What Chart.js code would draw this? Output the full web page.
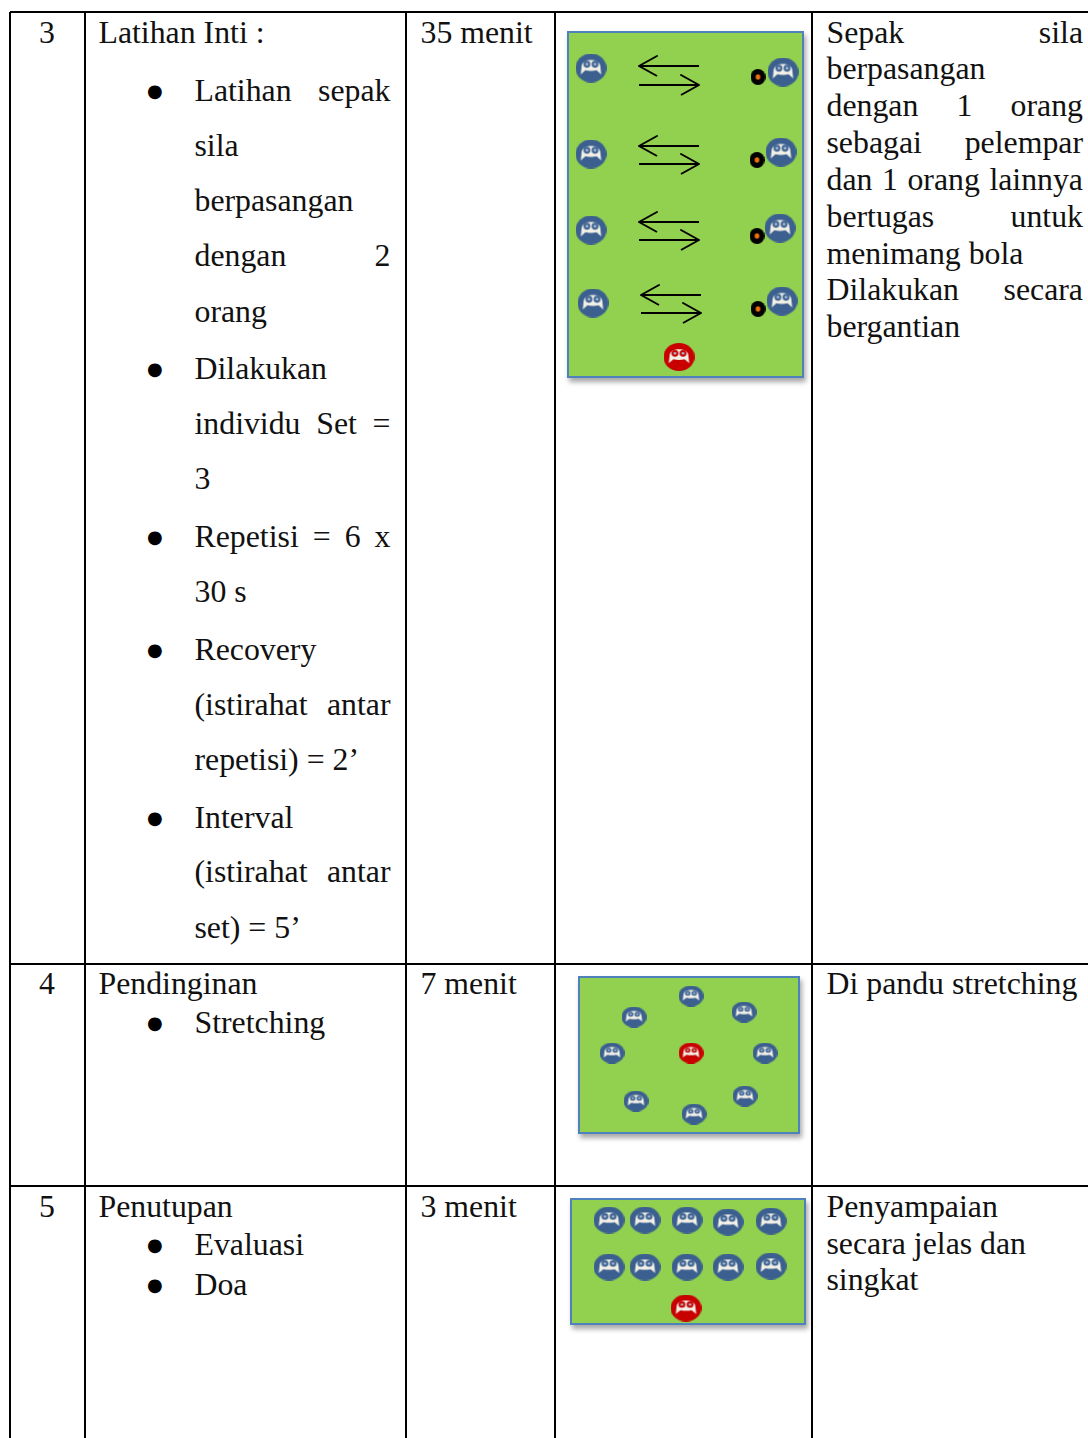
<!DOCTYPE html>
<html>
<head>
<meta charset="utf-8">
<title>Latihan</title>
<script src="https://cdn.jsdelivr.net/npm/chart.js@4"></script>
<style>
  html, body { margin: 0; background: #fff; }
  #page { position: relative; width: 1088px; height: 1438px; overflow: hidden;
          font-family: "Liberation Serif", serif; font-size: 31.8px; color: #111; }
  .rule { position: absolute; background: #000; }
  .line { position: absolute; height: 40px; line-height: 40px; white-space: nowrap; }
  .just { text-align: justify; text-align-last: justify; white-space: normal; }
  .dot { font-family: "DejaVu Sans"; font-size: 18px; color: #000; }
  .field { position: absolute; background: #92d050; box-shadow: 2px 4px 5px rgba(0,0,0,.35);
           outline: 2px solid #4f81bd; outline-offset: -2px; }
  .field canvas { position: absolute; left: 0; top: 0; }
</style>
</head>
<body>
<div id="page"></div>
<script>
// table text
const numbers = ['3', '4', '5'];
const numberY = [33, 984, 1207];
const durations = ['35 menit', '7 menit', '3 menit'];

const activityHeads = ['Latihan Inti :', 'Pendinginan', 'Penutupan'];
const activityLines = ['Latihan sepak', 'sila', 'berpasangan', 'dengan 2', 'orang', 'Dilakukan', 'individu Set =', '3',
  'Repetisi = 6 x', '30 s', 'Recovery', '(istirahat antar', 'repetisi) = 2’', 'Interval', '(istirahat antar', 'set) = 5’',
  'Stretching', 'Evaluasi', 'Doa'];
const activityY = [91, 146, 201, 256, 312, 369, 424, 479, 537, 592, 650, 705, 760, 818, 872, 928, 1023, 1245, 1285];
const activityJustified = [0, 3, 6, 8, 11, 14];
const bulletY = [91, 369, 537, 650, 818, 1023, 1245, 1285];

const noteLines = ['Sepak sila', 'berpasangan', 'dengan 1 orang', 'sebagai pelempar', 'dan 1 orang lainnya', 'bertugas untuk',
  'menimang bola', 'Dilakukan secara', 'bergantian', 'Di pandu stretching', 'Penyampaian', 'secara jelas dan', 'singkat'];
const noteY = [33, 69, 106, 143, 180, 217, 254, 290, 327, 984, 1207, 1244, 1280];
const noteJustified = [0, 2, 3, 4, 5, 7];

// field 1: pairs throwing and heading, values in px from the field corner
const pairLeftX = [24, 24, 24, 26];
const pairLeftY = [37, 123, 199, 272];
const pairRightX = [216, 214, 213, 215];
const pairRightY = [41, 121, 197, 270];
const ballX = [191, 190, 190, 191];
const ballY = [46, 129, 205, 278];
const coach1X = [112];
const coach1Y = [326];
const arrowBackY = [35, 115, 191, 264];
const arrowForwardY = [54, 133, 209, 282];
const arrowLeftX = [72, 72, 72, 74];
const arrowRightX = [132, 132, 132, 134];

// field 2: stretching circle
const circleX = [113, 56, 166, 34, 187, 58, 116, 167];
const circleY = [20, 41, 36, 77, 77, 125, 138, 120];
const coach2X = [113];
const coach2Y = [77];

// field 3: closing rows
const rowsX = [39, 75, 117, 158, 201, 39, 75, 117, 158, 201];
const rowsY = [22, 22, 22, 24, 23, 69, 69, 69, 69, 68];
const coach3X = [116];
const coach3Y = [110];

const page = document.getElementById('page');

function addRule(x, y, w, h) {
  const d = document.createElement('div');
  d.className = 'rule';
  d.style.cssText = `left:${x}px;top:${y}px;width:${w}px;height:${h}px`;
  page.appendChild(d);
}

function addText(text, x, y, width) {
  const d = document.createElement('div');
  d.className = width ? 'line just' : 'line';
  d.textContent = text;
  d.style.left = x + 'px';
  d.style.top = (y - 20) + 'px';
  if (width) d.style.width = width + 'px';
  page.appendChild(d);
  return d;
}

[12, 964, 1186].forEach(y => addRule(10, y - 1, 1078, 2));
[10, 85, 406, 555, 812].forEach(x => addRule(x - 1, 12, 2, 1426));

numbers.forEach((t, i) => addText(t, 39, numberY[i]));
activityHeads.forEach((t, i) => addText(t, 98.5, numberY[i]));
durations.forEach((t, i) => addText(t, 420.5, numberY[i]));
activityLines.forEach((t, i) => addText(t, 194.5, activityY[i], activityJustified.includes(i) ? 196 : 0));
bulletY.forEach(y => { addText('●', 147, y).classList.add('dot'); });
noteLines.forEach((t, i) => addText(t, 826.5, noteY[i], noteJustified.includes(i) ? 256.5 : 0));

function makeFace(color, w, h) {
  const c = document.createElement('canvas');
  c.width = w;
  c.height = h;
  const g = c.getContext('2d');
  g.fillStyle = color;
  g.beginPath();
  g.ellipse(w / 2, h / 2, w / 2, h / 2, 0, 0, Math.PI * 2);
  g.fill();
  g.filter = 'blur(0.4px)';
  g.scale(w, h);
  g.fillStyle = '#f2efe6';
  g.beginPath();
  g.moveTo(0.2, 0.42);
  g.bezierCurveTo(0.22, 0.28, 0.36, 0.22, 0.5, 0.22);
  g.bezierCurveTo(0.64, 0.22, 0.78, 0.28, 0.8, 0.42);
  g.lineTo(0.83, 0.72);
  g.lineTo(0.68, 0.58);
  g.quadraticCurveTo(0.5, 0.63, 0.32, 0.58);
  g.lineTo(0.17, 0.72);
  g.closePath();
  g.fill();
  [0.37, 0.63].forEach(x => {
    g.fillStyle = color;
    g.beginPath();
    g.ellipse(x, 0.37, 0.11, 0.12, 0, 0, Math.PI * 2);
    g.fill();
    g.fillStyle = '#a9bdd3';
    g.beginPath();
    g.ellipse(x, 0.37, 0.045, 0.05, 0, 0, Math.PI * 2);
    g.fill();
  });
  return c;
}

function makeBall(w, h) {
  const c = document.createElement('canvas');
  c.width = w;
  c.height = h;
  const g = c.getContext('2d');
  g.fillStyle = '#000';
  g.beginPath();
  g.ellipse(w / 2, h / 2, w / 2, h / 2, 0, 0, Math.PI * 2);
  g.fill();
  g.fillStyle = '#f07010';
  g.beginPath();
  g.ellipse(w / 2, h / 2, 2.3, 2.8, 0, 0, Math.PI * 2);
  g.fill();
  return c;
}

function xy(xs, ys) {
  return xs.map((x, i) => ({ x: x, y: ys[i] }));
}

function markers(xs, ys, image) {
  return { type: 'scatter', data: xy(xs, ys), pointStyle: image, pointRadius: 10, order: 1 };
}

// one polyline per arrow, head is built from the tip
function arrow(fromX, toX, y) {
  const back = toX > fromX ? -18 : 18;
  return {
    type: 'line',
    data: [
      { x: fromX, y: y }, { x: toX, y: y },
      { x: toX + back, y: y - 10 }, { x: toX, y: y }, { x: toX + back, y: y + 10 }
    ],
    borderColor: '#000',
    borderWidth: 2,
    borderJoinStyle: 'round',
    pointRadius: 0,
    fill: false,
    tension: 0,
    order: 2
  };
}

function addField(left, top, w, h, datasets) {
  const box = document.createElement('div');
  box.className = 'field';
  box.style.cssText = `left:${left}px;top:${top}px;width:${w}px;height:${h}px`;
  const canvas = document.createElement('canvas');
  canvas.width = w;
  canvas.height = h;
  box.appendChild(canvas);
  page.appendChild(box);
  new Chart(canvas.getContext('2d'), {
    type: 'scatter',
    data: { datasets: datasets },
    options: {
      responsive: false,
      animation: false,
      layout: { padding: 0, autoPadding: false },
      plugins: { legend: { display: false }, tooltip: { enabled: false } },
      scales: {
        x: { type: 'linear', display: false, min: 0, max: w },
        y: { type: 'linear', display: false, min: 0, max: h, reverse: true }
      }
    }
  });
}

const blue = '#3b6090';
const red = '#c80000';

addField(567, 31, 237, 347, [
  markers(pairLeftX, pairLeftY, makeFace(blue, 31, 29)),
  markers(pairRightX, pairRightY, makeFace(blue, 31, 29)),
  markers(ballX, ballY, makeBall(15, 16)),
  markers(coach1X, coach1Y, makeFace(red, 31, 28)),
  ...arrowBackY.map((y, i) => arrow(arrowRightX[i], arrowLeftX[i], y)),
  ...arrowForwardY.map((y, i) => arrow(arrowLeftX[i], arrowRightX[i], y))
]);

addField(578, 976, 222, 158, [
  markers(circleX, circleY, makeFace(blue, 25, 21)),
  markers(coach2X, coach2Y, makeFace(red, 25, 21))
]);

addField(570, 1198, 236, 127, [
  markers(rowsX, rowsY, makeFace(blue, 31, 27)),
  markers(coach3X, coach3Y, makeFace(red, 31, 27))
]);
</script>
</body>
</html>
